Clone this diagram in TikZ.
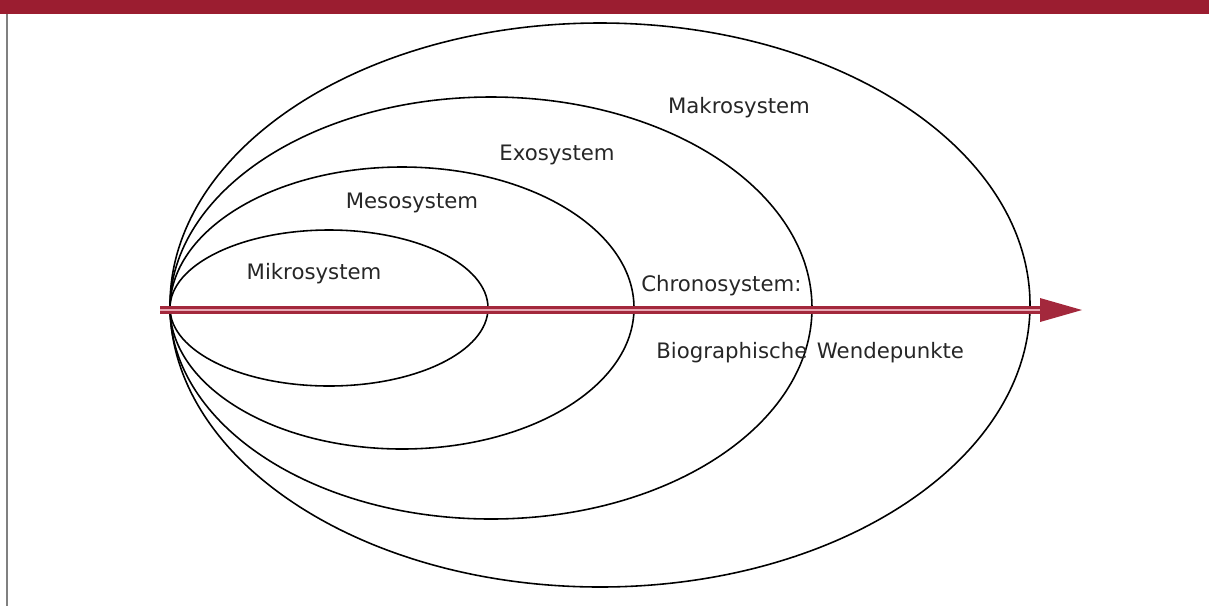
\documentclass[tikz,border=0pt]{standalone}
\usepackage{fontspec}
\setmainfont{DejaVu Sans}
\usetikzlibrary{positioning, calc}
\definecolor{bandred}{HTML}{9B1D30}
\definecolor{arrowred}{HTML}{A3283C}
\definecolor{arrowpink}{HTML}{E8A8B4}

\begin{document}
\begin{tikzpicture}[
  x=0.02cm, y=-0.02cm, font=\fontsize{12.1}{14}\selectfont,
  ring/.style = {draw=black, line width=0.9pt},
  lbl/.style = {inner sep=0pt, anchor=base, text=black!85},
  ]
  \useasboundingbox (0,0) rectangle (1209,606);
  % frame
  \fill[bandred] (0,0) rectangle (1209,14);
  \draw[gray, line width=1pt] (7,14) -- (7,606);
  % nested systems
  \draw[ring] (329,308) ellipse [x radius=159, y radius=78];
  \draw[ring] (402,308) ellipse [x radius=232, y radius=141];
  \draw[ring] (491,308) ellipse [x radius=321, y radius=211];
  \draw[ring] (600,305) ellipse [x radius=430, y radius=282];
  % time axis
  \coordinate (start) at (160,310);
  \coordinate (tip) at (1082,310);
  \coordinate (base) at (1040,310);
  \draw[arrowred, line width=4.2pt] (start) -- (base);
  \draw[arrowpink, line width=1.2pt] (start) -- (base);
  \fill[arrowred] (tip) -- ($(base)+(0,-12)$) -- ($(base)+(0,12)$) -- cycle;
  % labels
  \node[lbl] (makro) at (739,113) {Makrosystem};
  \node[lbl] (exo) at (557,160) {Exosystem};
  \node[lbl] (meso) at (412,208) {Mesosystem};
  \node[lbl] (mikro) at (314,279) {Mikrosystem};
  \node[lbl, anchor=base west] (chrono) at (641,291) {Chronosystem:};
  \node[lbl, anchor=base west] (wende) at (656,358) {Biographische\hspace{0.45em}Wendepunkte};
\end{tikzpicture}
\end{document}
